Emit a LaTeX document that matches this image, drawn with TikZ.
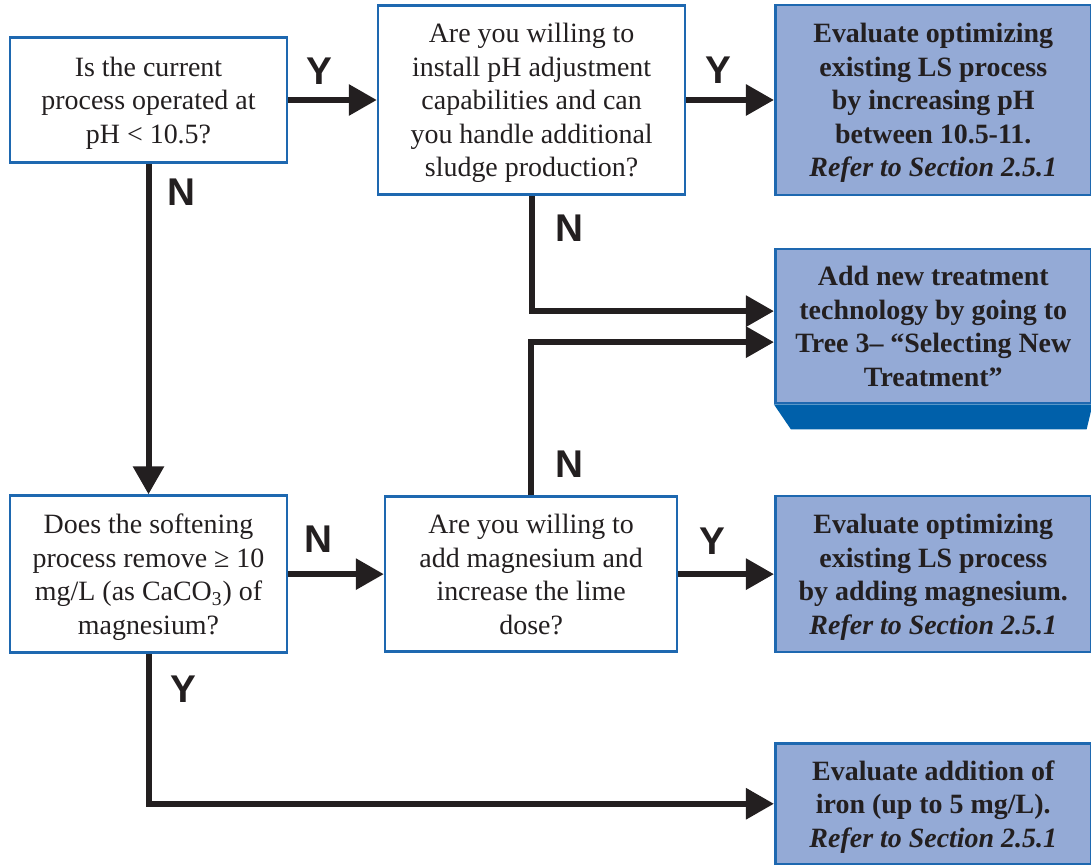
\documentclass[tikz,border=0pt]{standalone}
\usepackage{fontspec}
\setmainfont{Liberation Serif}
\newfontfamily\yesnofont{Liberation Sans}
\usetikzlibrary{arrows.meta,positioning,calc}
\definecolor{boxblue}{RGB}{30,104,176}
\definecolor{resfill}{RGB}{148,170,214}
\definecolor{tabblue}{RGB}{0,96,170}
\definecolor{arrowblack}{RGB}{35,31,32}

\begin{document}
\begin{tikzpicture}[
node distance=1.77cm and 1.77cm,
qbox/.style={draw=boxblue, line width=1.5pt, fill=white, align=center, text=arrowblack, text depth=-0.08cm, font=\fontsize{15.9}{19.1}\selectfont},
resbox/.style={qbox, fill=resfill, font=\fontsize{15.9}{19.1}\selectfont\bfseries},
arrow/.style={-{Triangle[length=0.56cm,width=0.6cm]}, line width=0.12cm, draw=arrowblack},
lbl/.style={inner sep=0pt, text=arrowblack, font=\yesnofont\bfseries\fontsize{22}{26}\selectfont}
]
\useasboundingbox (0,0) rectangle (21.82,-17.3);

% -------- Top row --------
\node[qbox, minimum width=5.54cm, minimum height=2.5cm] (q1) at (2.97,-2.0) {Is the current\\process operated at\\pH < 10.5?};
\node[qbox, minimum width=6.14cm, minimum height=3.78cm, right=1.77cm of q1] (q2) {Are you willing to\\install pH adjustment\\capabilities and can\\you handle additional\\sludge production?};
\node[resbox, minimum width=6.32cm, minimum height=3.8cm, right=1.75cm of q2] (r1) {Evaluate optimizing\\existing LS process\\by increasing pH\\between 10.5-11.\\\textit{Refer to Section 2.5.1}};

% -------- New treatment --------
\node[resbox, minimum width=6.32cm, minimum height=3.08cm, below=1.03cm of r1] (r2) {Add new treatment\\technology by going to\\Tree 3– “Selecting New\\Treatment”};
\fill[tabblue] (r2.south west) -- (r2.south east) -- ([xshift=-0.12cm, yshift=-0.5cm]r2.south east) -- ([xshift=0.34cm, yshift=-0.5cm]r2.south west) -- cycle;

% -------- Bottom rows --------
\node[qbox, minimum width=5.54cm, minimum height=3.14cm, below=6.61cm of q1] (q3) {Does the softening\\process remove ≥ 10\\mg/L (as CaCO\textsubscript{3}) of\\magnesium?};
\node[qbox, minimum width=5.84cm, minimum height=3.1cm, right=1.91cm of q3] (q4) {Are you willing to\\add magnesium and\\increase the lime\\dose?};
\node[resbox, minimum width=6.32cm, minimum height=3.12cm, right=1.91cm of q4] (r3) {Evaluate optimizing\\existing LS process\\by adding magnesium.\\\textit{Refer to Section 2.5.1}};
\node[resbox, minimum width=6.32cm, minimum height=2.42cm, below=1.77cm of r3] (r4) {Evaluate addition of\\iron (up to 5 mg/L).\\\textit{Refer to Section 2.5.1}};

% -------- Connectors --------
\draw[arrow] (q1) -- node[lbl, above=0.25cm, pos=0.35] (y1) {Y} (q2);
\draw[arrow] (q2) -- node[lbl, above=0.26cm, pos=0.36] (y2) {Y} (r1);
\draw[arrow] (q1) -- node[lbl, right=0.32cm, pos=0.087] (n1) {N} (q3);
\draw[arrow] (q2.south) |- node[lbl, right=0.41cm, pos=0.14] (n2) {N} ([yshift=0.3cm]r2.west);
\draw[arrow] (q4.north) |- node[lbl, right=0.43cm, pos=0.103] (n3) {N} ([yshift=-0.32cm]r2.west);
\draw[arrow] (q3) -- node[lbl, above=0.37cm, pos=0.32] (n4) {N} (q4);
\draw[arrow] (q4) -- node[lbl, above=0.34cm, pos=0.36] (y3) {Y} (r3);
\draw[arrow] (q3.south) |- node[lbl, right=0.38cm, pos=0.117] (y4) {Y} (r4.west);

\end{tikzpicture}
\end{document}
